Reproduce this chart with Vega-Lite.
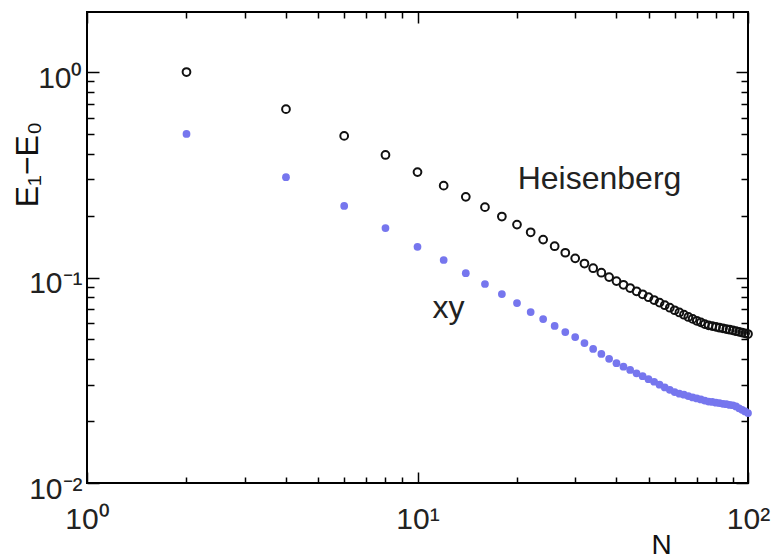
{
  "$schema": "https://vega.github.io/schema/vega-lite/v6.json",
  "width": 661,
  "height": 471,
  "autosize": {"type": "none"},
  "padding": {"left": 87, "top": 12, "right": 28, "bottom": 77},
  "background": "white",
  "config": {
    "view": {"stroke": "#000", "strokeWidth": 2},
    "font": "Liberation Sans",
    "axis": {"grid": false, "domain": false, "tickColor": "#000", "tickWidth": 1.5, "labelFont": "Liberation Sans", "titleFont": "Liberation Sans", "labelColor": "#222", "titleColor": "#111", "labelOverlap": false, "labelFlush": false}
  },
  "datasets": {
    "gaps": [
      {"N": 2, "E": 1.0, "model": "Heisenberg"},
      {"N": 4, "E": 0.66, "model": "Heisenberg"},
      {"N": 6, "E": 0.489, "model": "Heisenberg"},
      {"N": 8, "E": 0.395, "model": "Heisenberg"},
      {"N": 10, "E": 0.326, "model": "Heisenberg"},
      {"N": 12, "E": 0.28, "model": "Heisenberg"},
      {"N": 14, "E": 0.247, "model": "Heisenberg"},
      {"N": 16, "E": 0.22, "model": "Heisenberg"},
      {"N": 18, "E": 0.198, "model": "Heisenberg"},
      {"N": 20, "E": 0.181, "model": "Heisenberg"},
      {"N": 22, "E": 0.166, "model": "Heisenberg"},
      {"N": 24, "E": 0.153, "model": "Heisenberg"},
      {"N": 26, "E": 0.142, "model": "Heisenberg"},
      {"N": 28, "E": 0.132, "model": "Heisenberg"},
      {"N": 30, "E": 0.124, "model": "Heisenberg"},
      {"N": 32, "E": 0.117, "model": "Heisenberg"},
      {"N": 34, "E": 0.111, "model": "Heisenberg"},
      {"N": 36, "E": 0.1055, "model": "Heisenberg"},
      {"N": 38, "E": 0.1005, "model": "Heisenberg"},
      {"N": 40, "E": 0.0961, "model": "Heisenberg"},
      {"N": 42, "E": 0.0922, "model": "Heisenberg"},
      {"N": 44, "E": 0.0889, "model": "Heisenberg"},
      {"N": 46, "E": 0.0857, "model": "Heisenberg"},
      {"N": 48, "E": 0.0829, "model": "Heisenberg"},
      {"N": 50, "E": 0.0802, "model": "Heisenberg"},
      {"N": 52, "E": 0.0777, "model": "Heisenberg"},
      {"N": 54, "E": 0.0755, "model": "Heisenberg"},
      {"N": 56, "E": 0.0733, "model": "Heisenberg"},
      {"N": 58, "E": 0.0713, "model": "Heisenberg"},
      {"N": 60, "E": 0.0693, "model": "Heisenberg"},
      {"N": 62, "E": 0.0676, "model": "Heisenberg"},
      {"N": 64, "E": 0.0659, "model": "Heisenberg"},
      {"N": 66, "E": 0.0643, "model": "Heisenberg"},
      {"N": 68, "E": 0.0629, "model": "Heisenberg"},
      {"N": 70, "E": 0.0616, "model": "Heisenberg"},
      {"N": 72, "E": 0.0605, "model": "Heisenberg"},
      {"N": 74, "E": 0.0593, "model": "Heisenberg"},
      {"N": 76, "E": 0.0585, "model": "Heisenberg"},
      {"N": 78, "E": 0.058, "model": "Heisenberg"},
      {"N": 80, "E": 0.0575, "model": "Heisenberg"},
      {"N": 82, "E": 0.057, "model": "Heisenberg"},
      {"N": 84, "E": 0.0566, "model": "Heisenberg"},
      {"N": 86, "E": 0.0561, "model": "Heisenberg"},
      {"N": 88, "E": 0.0557, "model": "Heisenberg"},
      {"N": 90, "E": 0.0553, "model": "Heisenberg"},
      {"N": 92, "E": 0.0548, "model": "Heisenberg"},
      {"N": 94, "E": 0.0544, "model": "Heisenberg"},
      {"N": 96, "E": 0.0539, "model": "Heisenberg"},
      {"N": 98, "E": 0.0535, "model": "Heisenberg"},
      {"N": 100, "E": 0.0531, "model": "Heisenberg"},
      {"N": 2, "E": 0.5, "model": "xy"},
      {"N": 4, "E": 0.308, "model": "xy"},
      {"N": 6, "E": 0.223, "model": "xy"},
      {"N": 8, "E": 0.174, "model": "xy"},
      {"N": 10, "E": 0.141, "model": "xy"},
      {"N": 12, "E": 0.1217, "model": "xy"},
      {"N": 14, "E": 0.105, "model": "xy"},
      {"N": 16, "E": 0.093, "model": "xy"},
      {"N": 18, "E": 0.0831, "model": "xy"},
      {"N": 20, "E": 0.0751, "model": "xy"},
      {"N": 22, "E": 0.0679, "model": "xy"},
      {"N": 24, "E": 0.0628, "model": "xy"},
      {"N": 26, "E": 0.0581, "model": "xy"},
      {"N": 28, "E": 0.0543, "model": "xy"},
      {"N": 30, "E": 0.0513, "model": "xy"},
      {"N": 32, "E": 0.048, "model": "xy"},
      {"N": 34, "E": 0.0449, "model": "xy"},
      {"N": 36, "E": 0.0425, "model": "xy"},
      {"N": 38, "E": 0.0402, "model": "xy"},
      {"N": 40, "E": 0.0383, "model": "xy"},
      {"N": 42, "E": 0.0368, "model": "xy"},
      {"N": 44, "E": 0.0355, "model": "xy"},
      {"N": 46, "E": 0.0342, "model": "xy"},
      {"N": 48, "E": 0.0331, "model": "xy"},
      {"N": 50, "E": 0.032, "model": "xy"},
      {"N": 52, "E": 0.0311, "model": "xy"},
      {"N": 54, "E": 0.0301, "model": "xy"},
      {"N": 56, "E": 0.0292, "model": "xy"},
      {"N": 58, "E": 0.0284, "model": "xy"},
      {"N": 60, "E": 0.0277, "model": "xy"},
      {"N": 62, "E": 0.0272, "model": "xy"},
      {"N": 64, "E": 0.0269, "model": "xy"},
      {"N": 66, "E": 0.0265, "model": "xy"},
      {"N": 68, "E": 0.0261, "model": "xy"},
      {"N": 70, "E": 0.0258, "model": "xy"},
      {"N": 72, "E": 0.0255, "model": "xy"},
      {"N": 74, "E": 0.0252, "model": "xy"},
      {"N": 76, "E": 0.0249, "model": "xy"},
      {"N": 78, "E": 0.0248, "model": "xy"},
      {"N": 80, "E": 0.0246, "model": "xy"},
      {"N": 82, "E": 0.0245, "model": "xy"},
      {"N": 84, "E": 0.0243, "model": "xy"},
      {"N": 86, "E": 0.0242, "model": "xy"},
      {"N": 88, "E": 0.024, "model": "xy"},
      {"N": 90, "E": 0.0239, "model": "xy"},
      {"N": 92, "E": 0.0236, "model": "xy"},
      {"N": 94, "E": 0.0231, "model": "xy"},
      {"N": 96, "E": 0.0227, "model": "xy"},
      {"N": 98, "E": 0.0223, "model": "xy"},
      {"N": 100, "E": 0.0219, "model": "xy"}
    ],
    "labels": [
      {"N": 20.1, "E": 0.27, "text": "Heisenberg"},
      {"N": 11.1, "E": 0.0635, "text": "xy"}
    ]
  },
  "resolve": {"axis": {"x": "independent", "y": "independent"}},
  "layer": [
    {
      "data": {"name": "gaps"},
      "transform": [{"filter": "datum.model === 'Heisenberg'"}],
      "mark": {"type": "point", "shape": "circle", "filled": false, "stroke": "#111", "strokeWidth": 2, "size": 60, "opacity": 1},
      "encoding": {
        "x": {"field": "N", "type": "quantitative", "scale": {"type": "log", "domain": [1, 100], "nice": false},
          "axis": {"orient": "bottom", "values": [1, 10, 100], "labelExpr": "datum.value == 1 ? '10⁰' : datum.value == 10 ? '10¹' : '10²'", "tickSize": 11, "offset": -11, "labelPadding": 21, "labelFontSize": 30, "title": "N", "titleFontSize": 28, "titleFontWeight": "normal", "titleX": 574, "titleY": 81, "titleBaseline": "alphabetic", "titleAlign": "center"}},
        "y": {"field": "E", "type": "quantitative", "scale": {"type": "log", "domain": [0.01, 1.96], "nice": false},
          "axis": {"orient": "left", "values": [0.01, 0.1, 1], "labelExpr": "datum.value == 1 ? '10⁰' : datum.value == 0.1 ? '10⁻¹' : '10⁻²'", "tickSize": 12, "offset": -12, "labelPadding": 5, "labelOffset": 6, "labelFontSize": 30, "title": "E₁−E₀", "titleFontSize": 32, "titleFontWeight": "normal", "titleAngle": -90, "titleX": -62, "titleY": 152, "titleBaseline": "alphabetic", "titleAlign": "center"}}
      }
    },
    {
      "data": {"name": "gaps"},
      "transform": [{"filter": "datum.model === 'xy'"}],
      "mark": {"type": "circle", "color": "#7676ee", "size": 60, "opacity": 1},
      "encoding": {
        "x": {"field": "N", "type": "quantitative", "scale": {"type": "log", "domain": [1, 100], "nice": false},
          "axis": {"orient": "bottom", "values": [2, 3, 4, 5, 6, 7, 8, 9, 20, 30, 40, 50, 60, 70, 80, 90], "labels": false, "tickSize": 6, "offset": -6, "title": null}},
        "y": {"field": "E", "type": "quantitative", "scale": {"type": "log", "domain": [0.01, 1.96], "nice": false},
          "axis": {"orient": "left", "values": [0.02, 0.03, 0.04, 0.05, 0.06, 0.07, 0.08, 0.09, 0.2, 0.3, 0.4, 0.5, 0.6, 0.7, 0.8, 0.9], "labels": false, "tickSize": 7, "offset": -7, "title": null}}
      }
    },
    {
      "data": {"name": "labels"},
      "transform": [{"filter": "datum.text === 'Heisenberg'"}],
      "mark": {"type": "text", "align": "left", "baseline": "alphabetic", "fontSize": 32, "font": "Liberation Sans", "color": "#222"},
      "encoding": {
        "x": {"field": "N", "type": "quantitative", "scale": {"type": "log", "domain": [1, 100], "nice": false},
          "axis": {"orient": "top", "values": [1, 10, 100], "labels": false, "tickSize": 11, "offset": -11, "title": null}},
        "y": {"field": "E", "type": "quantitative", "scale": {"type": "log", "domain": [0.01, 1.96], "nice": false},
          "axis": {"orient": "right", "values": [0.01, 0.1, 1], "labels": false, "tickSize": 12, "offset": -12, "title": null}},
        "text": {"field": "text"}
      }
    },
    {
      "data": {"name": "labels"},
      "transform": [{"filter": "datum.text === 'xy'"}],
      "mark": {"type": "text", "align": "left", "baseline": "alphabetic", "fontSize": 32, "font": "Liberation Sans", "color": "#222"},
      "encoding": {
        "x": {"field": "N", "type": "quantitative", "scale": {"type": "log", "domain": [1, 100], "nice": false},
          "axis": {"orient": "top", "values": [2, 3, 4, 5, 6, 7, 8, 9, 20, 30, 40, 50, 60, 70, 80, 90], "labels": false, "tickSize": 6, "offset": -6, "title": null}},
        "y": {"field": "E", "type": "quantitative", "scale": {"type": "log", "domain": [0.01, 1.96], "nice": false},
          "axis": {"orient": "right", "values": [0.02, 0.03, 0.04, 0.05, 0.06, 0.07, 0.08, 0.09, 0.2, 0.3, 0.4, 0.5, 0.6, 0.7, 0.8, 0.9], "labels": false, "tickSize": 7, "offset": -7, "title": null}},
        "text": {"field": "text"}
      }
    }
  ]
}
